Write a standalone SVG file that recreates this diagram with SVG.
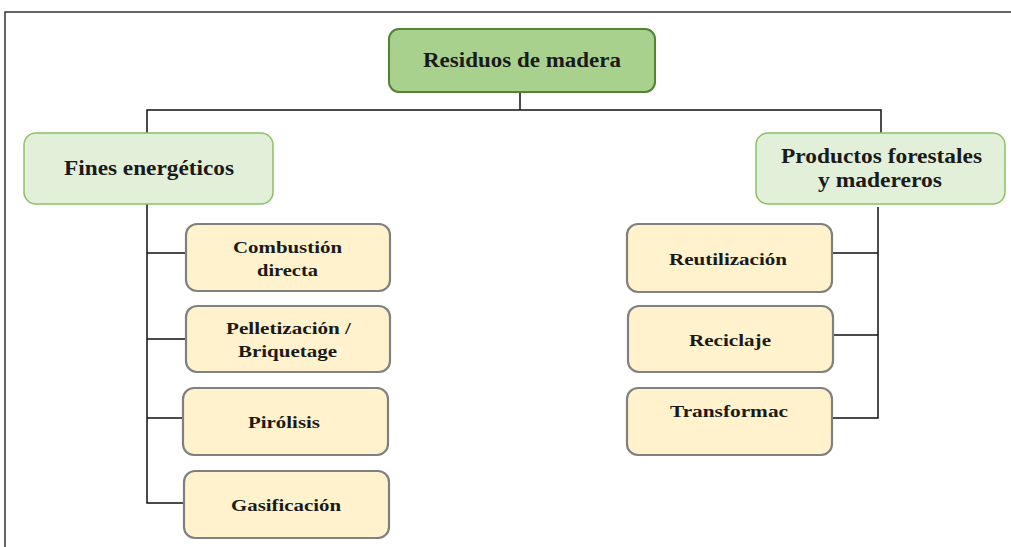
<svg xmlns="http://www.w3.org/2000/svg" width="1011" height="547" viewBox="0 0 1011 547">
<style>
text{font-family:"Liberation Serif","Times New Roman",serif;font-weight:bold;fill:#1a1a1a;text-anchor:middle;lengthAdjust:spacingAndGlyphs}
.top{fill:#a9d18e;stroke:#538135;stroke-width:2}
.mid{fill:#e2efd9;stroke:#8cc168;stroke-width:1.5}
.leaf{fill:#fff2cc;stroke:#808080;stroke-width:2.2}
.big{font-size:20px}
.sm{font-size:17.5px}
.c{fill:none;stroke:#111;stroke-width:1.5}
</style>
<rect width="1011" height="547" fill="#fff"/>
<path d="M5,547 V12 H1011" fill="none" stroke="#333" stroke-width="1.5"/>
<g id="connectors">
<path class="c" d="M520,92 V110 M147,133 V110 H881 V133"/>
<path class="c" d="M147,204 V503 H184 M147,253 H186 M147,339 H186 M147,418 H183"/>
<path class="c" d="M878,207 V418 H832 M878,253 H832 M878,335 H833"/>
</g>
<g id="n-residuos"><rect class="top" x="389" y="29" width="266" height="63" rx="10"/><text class="big" x="522" y="67" textLength="198" lengthAdjust="spacingAndGlyphs">Residuos de madera</text></g>
<g id="n-fines"><rect class="mid" x="24" y="133" width="249" height="71" rx="12"/><text class="big" x="149" y="175" textLength="170" lengthAdjust="spacingAndGlyphs">Fines energéticos</text></g>
<g id="n-productos"><rect class="mid" x="756" y="133" width="249" height="71" rx="12"/><text class="big" x="881.5" y="163" textLength="201" lengthAdjust="spacingAndGlyphs">Productos forestales</text><text class="big" x="880" y="187" textLength="124" lengthAdjust="spacingAndGlyphs">y madereros</text></g>
<g id="n-combustion"><rect class="leaf" x="186" y="224" width="204" height="67" rx="11"/><text class="sm" x="287.5" y="253" textLength="109" lengthAdjust="spacingAndGlyphs">Combustión</text><text class="sm" x="287.5" y="276" textLength="61" lengthAdjust="spacingAndGlyphs">directa</text></g>
<g id="n-pelletizacion"><rect class="leaf" x="186" y="306" width="204" height="66" rx="11"/><text class="sm" x="288.5" y="334" textLength="125" lengthAdjust="spacingAndGlyphs">Pelletización /</text><text class="sm" x="287.5" y="357" textLength="99" lengthAdjust="spacingAndGlyphs">Briquetage</text></g>
<g id="n-pirolisis"><rect class="leaf" x="183" y="388" width="205" height="67" rx="11"/><text class="sm" x="284" y="428" textLength="72" lengthAdjust="spacingAndGlyphs">Pirólisis</text></g>
<g id="n-gasificacion"><rect class="leaf" x="184" y="471" width="205" height="67" rx="11"/><text class="sm" x="286" y="511" textLength="110" lengthAdjust="spacingAndGlyphs">Gasificación</text></g>
<g id="n-reutilizacion"><rect class="leaf" x="627" y="224" width="205" height="68" rx="11"/><text class="sm" x="728" y="265" textLength="118" lengthAdjust="spacingAndGlyphs">Reutilización</text></g>
<g id="n-reciclaje"><rect class="leaf" x="628" y="306" width="205" height="66" rx="11"/><text class="sm" x="730" y="346" textLength="82" lengthAdjust="spacingAndGlyphs">Reciclaje</text></g>
<g id="n-transformac"><rect class="leaf" x="627" y="388" width="205" height="67" rx="11"/><text class="sm" x="729" y="417" textLength="118" lengthAdjust="spacingAndGlyphs">Transformac</text></g>
</svg>
